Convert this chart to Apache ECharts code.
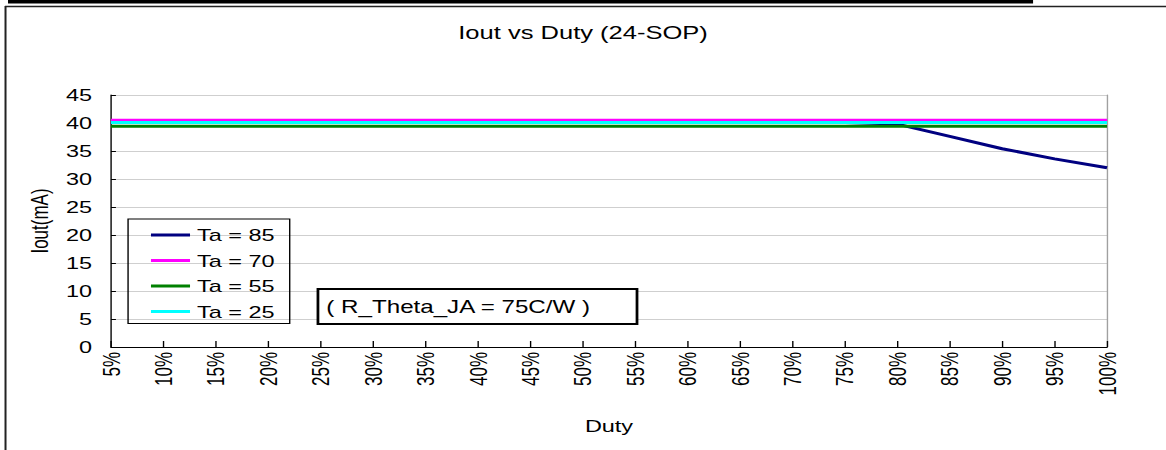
<!DOCTYPE html>
<html><head><meta charset="utf-8">
<script src="https://cdn.jsdelivr.net/npm/echarts@6/dist/echarts.min.js"></script>
<style>
html,body{margin:0;padding:0;background:#fff;overflow:hidden}
#c{width:845px;height:450px;transform-origin:0 0;transform:scaleX(1.38)}
</style>
</head><body><div id="c"></div>
<script>
const categories = ['5%','10%','15%','20%','25%','30%','35%','40%','45%','50%','55%','60%','65%','70%','75%','80%','85%','90%','95%','100%'];
const ta85 = [40.1,40.1,40.1,40.1,40.1,40.1,40.1,40.1,40.1,40.1,40.1,40.1,40.1,40.1,40.1,39.8,37.6,35.4,33.6,32.0];
const ta70 = [40.5,40.5,40.5,40.5,40.5,40.5,40.5,40.5,40.5,40.5,40.5,40.5,40.5,40.5,40.5,40.5,40.5,40.5,40.5,40.5];
const ta55 = [39.4,39.4,39.4,39.4,39.4,39.4,39.4,39.4,39.4,39.4,39.4,39.4,39.4,39.4,39.4,39.4,39.4,39.4,39.4,39.4];
const ta25 = [40.1,40.1,40.1,40.1,40.1,40.1,40.1,40.1,40.1,40.1,40.1,40.1,40.1,40.1,40.1,40.1,40.1,40.1,40.1,40.1];
const seriesNames = ['Ta = 85','Ta = 70','Ta = 55','Ta = 25'];
const seriesColors = ['#000080','#ff00ff','#008000','#00ffff'];
const titleText = 'Iout vs Duty (24-SOP)';
const yName = 'Iout(mA)';
const xName = 'Duty';
const noteText = '( R_Theta_JA = 75C/W )';

const F = 'Liberation Sans';
const chart = echarts.init(document.getElementById('c'), null, { renderer: 'svg' });
const datasets = [ta85, ta70, ta55, ta25];
chart.setOption({
  animation: false,
  backgroundColor: '#fff',
  title: { text: titleText, left: 'center', top: 18,
    textStyle: { fontFamily: F, fontSize: 18.5, fontWeight: 'normal', color: '#000' } },
  grid: { left: 80.4, right: 42.8, top: 95, bottom: 103 },
  legend: {
    orient: 'vertical', left: 92.8, top: 219,
    data: seriesNames, icon: 'rect', itemWidth: 28.3, itemHeight: 3, itemGap: 5.5,
    borderColor: '#000', borderWidth: 1, padding: [6, 11, 2, 16.6],
    textStyle: { fontFamily: F, fontSize: 17, color: '#000', lineHeight: 20 }
  },
  xAxis: {
    type: 'category', data: categories, boundaryGap: false,
    name: xName, nameLocation: 'middle', nameGap: 70,
    nameTextStyle: { fontFamily: F, fontSize: 17, color: '#000' },
    axisLine: { lineStyle: { color: '#000', width: 1 } },
    axisTick: { inside: true, length: 6, lineStyle: { color: '#000' } },
    axisLabel: { rotate: 90, margin: 5, fontFamily: F, fontSize: 17, color: '#000' },
    splitLine: { show: false }
  },
  yAxis: [{
    type: 'value', min: 0, max: 45, interval: 5,
    name: yName, nameLocation: 'middle', nameGap: 43,
    nameTextStyle: { fontFamily: F, fontSize: 17, color: '#000' },
    axisLine: { show: true, lineStyle: { color: '#000', width: 1 } },
    axisTick: { show: true, inside: true, length: 3.6, lineStyle: { color: '#000' } },
    axisLabel: { margin: 13.7, fontFamily: F, fontSize: 17, color: '#000' },
    splitLine: { show: true, lineStyle: { color: '#cfcfcf', width: 1 } }
  }, {
    type: 'value', min: 0, max: 45, interval: 5, position: 'right',
    axisLine: { show: true, lineStyle: { color: '#a0a0a0', width: 1 } },
    axisTick: { show: false }, axisLabel: { show: false }, splitLine: { show: false }
  }],
  series: datasets.map((d, i) => ({
    name: seriesNames[i], type: 'line', data: d, yAxisIndex: 0,
    showSymbol: false, symbol: 'none',
    lineStyle: { color: seriesColors[i], width: 3 },
    itemStyle: { color: seriesColors[i] }
  })),
  graphic: [
    { type: 'rect', shape: { x: 5.8, y: 0, width: 742.8, height: 3.5 }, style: { fill: '#000' } },
    { type: 'line', shape: { x1: 3.6, y1: 6.5, x2: 845, y2: 6.5 }, style: { stroke: '#222', lineWidth: 1.5 } },
    { type: 'line', shape: { x1: 4, y1: 6, x2: 4, y2: 450 }, style: { stroke: '#222', lineWidth: 1.45 } },
    { type: 'rect', shape: { x: 230.4, y: 289, width: 231.2, height: 35 },
      style: { fill: '#fff', stroke: '#000', lineWidth: 2 }, z: 10 },
    { type: 'text', x: 236.5, y: 307, z: 11,
      style: { text: noteText, fontFamily: F, fontSize: 17.5, fill: '#000', align: 'left', verticalAlign: 'middle' } }
  ]
});
</script></body></html>
